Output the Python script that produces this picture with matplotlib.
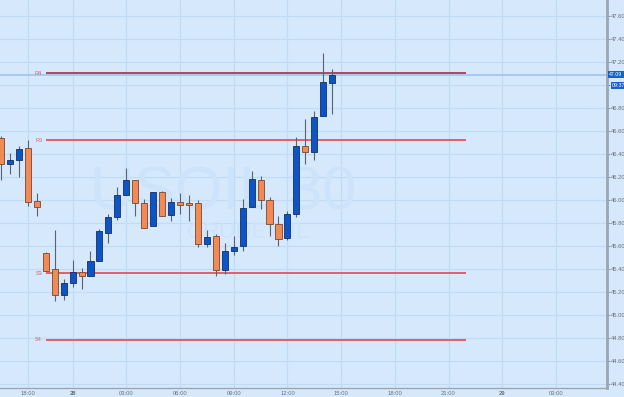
# USOIL 30 min candles with pivot levels
import numpy as np
import matplotlib
matplotlib.use("Agg")
import matplotlib.pyplot as plt
from matplotlib.transforms import blended_transform_factory

# candle data (30 min bars)
opens = [46.54, 46.31, 46.35, 46.45, 45.99, 45.54, 45.40, 45.17, 45.28, 45.37,
         45.34, 45.47, 45.71, 45.85, 46.04, 46.17, 45.97, 45.77, 46.07, 45.87,
         45.98, 45.97, 45.97, 45.62, 45.69, 45.39, 45.56, 45.60, 45.94, 46.17,
         46.00, 45.79, 45.67, 45.88, 46.47, 46.42, 46.73, 47.02]
highs = [46.56, 46.41, 46.47, 46.52, 46.06, 45.55, 45.74, 45.31, 45.48, 45.41,
         45.56, 45.75, 45.88, 46.11, 46.28, 46.17, 46.01, 46.07, 46.08, 46.02,
         46.06, 46.04, 46.00, 45.74, 45.70, 45.63, 45.69, 46.01, 46.25, 46.21,
         46.03, 45.86, 45.90, 46.55, 46.70, 46.77, 47.28, 47.14]
lows = [46.17, 46.23, 46.20, 45.95, 45.86, 45.38, 45.12, 45.13, 45.24, 45.23,
        45.34, 45.47, 45.63, 45.83, 46.04, 45.86, 45.76, 45.77, 45.86, 45.82,
        45.88, 45.82, 45.59, 45.59, 45.34, 45.36, 45.52, 45.56, 45.94, 45.92,
        45.69, 45.60, 45.65, 45.85, 46.31, 46.35, 46.73, 46.75]
closes = [46.31, 46.35, 46.44, 45.98, 45.94, 45.38, 45.17, 45.28, 45.37, 45.34,
          45.47, 45.73, 45.85, 46.04, 46.17, 45.97, 45.76, 46.07, 45.86, 45.98,
          45.96, 45.96, 45.62, 45.68, 45.39, 45.56, 45.59, 45.93, 46.18, 46.00,
          45.79, 45.66, 45.88, 46.47, 46.42, 46.72, 47.03, 47.09]

# pivot levels
level_names = ["R4", "R3", "S3", "S4"]
level_values = [47.10, 46.52, 45.365, 44.785]
last_price = 47.09

# x axis labels (candle index -> label)
tick_pos = [3, 8, 14, 20, 26, 32, 38, 44, 50, 56, 62]
tick_labels = ["18:00", "28", "03:00", "06:00", "09:00", "12:00", "15:00",
               "18:00", "21:00", "29", "03:00"]
y_ticks = [44.40, 44.60, 44.80, 45.00, 45.20, 45.40, 45.60, 45.80, 46.00,
           46.20, 46.40, 46.60, 46.80, 47.00, 47.20, 47.40, 47.60]

plt.rcParams["font.family"] = ["Liberation Sans", "DejaVu Sans"]

bg = "#d5e8fc"
grid_c = "#c0dbf5"
up_c, up_edge = "#0d54c6", "#14305e"
dn_c, dn_edge = "#f28a55", "#7a4630"

fig = plt.figure(figsize=(6.24, 3.97), dpi=100, facecolor=bg)
ax = fig.add_axes([0, 9 / 397, 607 / 624, 388 / 397], facecolor=bg)

x = np.arange(len(opens))
o = np.array(opens)
c = np.array(closes)
colors = [up_c if cc >= oo else dn_c for oo, cc in zip(o, c)]
edges = [up_edge if cc >= oo else dn_edge for oo, cc in zip(o, c)]

# grid
for t in tick_pos:
    ax.axvline(t, color=grid_c, lw=0.8, zorder=0)
for t in y_ticks:
    ax.axhline(t, color=grid_c, lw=0.8, zorder=0)

# watermark (very faint)
ax.text(24.8, 46.05, "USOIL 30", fontsize=44, color="#cde3fa", ha="center",
        va="center", zorder=1)
ax.text(27.5, 45.72, "CRUDE OIL", fontsize=16, color="#cde3fa", ha="center",
        va="center", zorder=1)

# last price line
ax.axhline(last_price, color="#9fc4ee", lw=1.2, zorder=2)

# pivot lines
for name, val in zip(level_names, level_values):
    col = "#b33a4c" if name == "R4" else "#e05560"
    ax.plot([5, 52], [val, val], color=col, lw=1.3, zorder=3,
            solid_capstyle="butt")
    ax.text(4.6, val, name, fontsize=4, color="#d8606e", ha="right",
            va="center", zorder=3)

# candles
ax.vlines(x, lows, highs, color="#5a6470", lw=0.8, zorder=4)
ax.bar(x, np.abs(c - o), bottom=np.minimum(o, c), width=0.68, color=colors,
       edgecolor=edges, linewidth=0.6, zorder=5)

ax.set_xlim(-0.11, 67.7)
ax.set_ylim(44.365, 47.739)

ax.set_xticks(tick_pos)
ax.set_xticklabels(tick_labels)
for lab in ax.get_xticklabels():
    if lab.get_text() in ("28", "29"):
        lab.set_fontweight("bold")
ax.yaxis.tick_right()
ax.set_yticks(y_ticks)
# 47.00 sits under the price boxes, so it is hidden
ax.set_yticklabels(["" if v == 47.00 else "%.2f" % v for v in y_ticks])
ax.tick_params(axis="both", labelsize=4.2, colors="#6a7078", length=2,
               width=0.5, pad=0.8)
ax.tick_params(axis="x", length=0, pad=2)

for side in ["top", "left"]:
    ax.spines[side].set_visible(False)
ax.spines["right"].set_color("#9aa6b2")
ax.spines["right"].set_linewidth(2)
ax.spines["bottom"].set_color("#9aa6b2")
ax.spines["bottom"].set_linewidth(1)

# price and countdown boxes on the axis
tr = blended_transform_factory(ax.transAxes, ax.transData)
ax.text(1.004, last_price, "47.09", transform=tr, fontsize=3.8, color="white",
        ha="left", va="center", clip_on=False, zorder=10,
        bbox=dict(boxstyle="square,pad=0.2", fc="#1a5fd0", ec="none"))
ax.text(1.008, 46.998, "09:37", transform=tr, fontsize=3.8, color="white",
        ha="left", va="center", clip_on=False, zorder=10,
        bbox=dict(boxstyle="square,pad=0.15", fc="#1a5fd0", ec="none"))

fig.savefig("out.png", dpi=100, facecolor=bg)
